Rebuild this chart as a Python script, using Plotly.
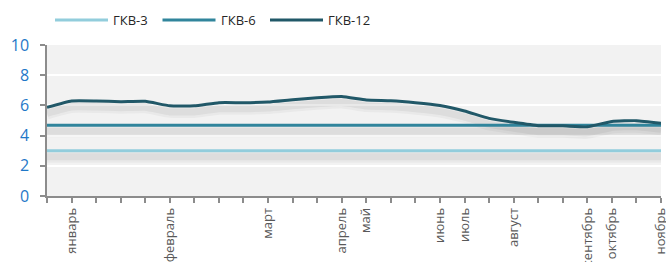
import plotly.graph_objects as go

# categories: 26 weekly points, month labels where a month starts
tick_labels = ["", "январь", "", "", "", "февраль", "", "", "", "март", "", "",
               "апрель", "май", "", "", "июнь", "июль", "", "август", "", "",
               "сентябрь", "октябрь", "", "ноябрь"]
x_idx = list(range(len(tick_labels)))

gkv3 = [3.0] * 26
gkv6 = [4.68] * 26
gkv12 = [5.87, 6.29, 6.29, 6.25, 6.27, 5.97, 5.97, 6.18, 6.18, 6.23, 6.38, 6.51,
         6.59, 6.36, 6.31, 6.18, 5.99, 5.63, 5.14, 4.88, 4.66, 4.65, 4.58, 4.94,
         4.99, 4.82]

names = ["ГКВ-3", "ГКВ-6", "ГКВ-12"]
colors = ["#92cddc", "#31859c", "#215868"]
values = [gkv3, gkv6, gkv12]

fig = go.Figure()
# soft shadows (same data, drawn on an offset hidden axis)
for ys in values:
    for w, a in [(12, 0.035), (7, 0.05)]:
        fig.add_trace(go.Scatter(x=x_idx, y=ys, mode="lines", yaxis="y", showlegend=False,
                                 hoverinfo="skip",
                                 line=dict(color=f"rgba(0,0,0,{a})", width=w, shape="spline", smoothing=0.4)))
for name, ys, col in zip(names, values, colors):
    fig.add_trace(go.Scatter(x=x_idx, y=ys, mode="lines", name=name, yaxis="y2", showlegend=False,
                             line=dict(color=col, width=3, shape="spline", smoothing=0.4)))

# manual legend (long line samples like the reference)
L, W = 47, 614
def px(p):
    return (p - L) / W
leg_y = (196 - 20) / 151
shapes = []
annotations = []
for i, (name, col) in enumerate(zip(names, colors)):
    x0 = 55 + 107.5 * i
    shapes.append(dict(type="line", xref="paper", yref="paper", x0=px(x0), x1=px(x0 + 53),
                       y0=leg_y, y1=leg_y, line=dict(color=col, width=3)))
    annotations.append(dict(xref="paper", yref="paper", x=px(x0 + 56), y=leg_y, text=name,
                            showarrow=False, xanchor="left", yanchor="middle",
                            font=dict(size=13, color="#262626")))

fig.update_layout(
    width=666, height=262,
    margin=dict(l=47, r=5, t=45, b=66, autoexpand=False),
    paper_bgcolor="white", plot_bgcolor="#f2f2f2",
    font=dict(family="Open Sans", color="#404040"),
    showlegend=False,
    shapes=shapes, annotations=annotations,
    xaxis=dict(range=[0, 25], tickmode="array", tickvals=x_idx, ticktext=tick_labels,
               tickangle=-90, tickfont=dict(size=13, color="#595959"),
               ticklabeloverflow="allow",
               showgrid=False, zeroline=False, showline=True, linecolor="#8c8c8c",
               linewidth=1.5, ticks="outside", ticklen=5, tickcolor="#8c8c8c", tickwidth=1.5),
    yaxis=dict(range=[0.4, 10.4], visible=False, showgrid=False, zeroline=False),
    yaxis2=dict(overlaying="y", side="left", range=[0, 10], dtick=2, tickmode="linear", tick0=0,
                tickfont=dict(size=16, color="#1f78c8"), ticklabelstandoff=8,
                showgrid=True, gridcolor="white", gridwidth=1.5, zeroline=False,
                showline=True, linecolor="#8c8c8c", linewidth=1.5,
                ticks="outside", ticklen=5, tickcolor="#8c8c8c", tickwidth=1.5),
)

fig.write_html("out.html", config={"displayModeBar": False},
               post_script="document.body.style.margin='0';document.body.style.overflow='hidden';")
